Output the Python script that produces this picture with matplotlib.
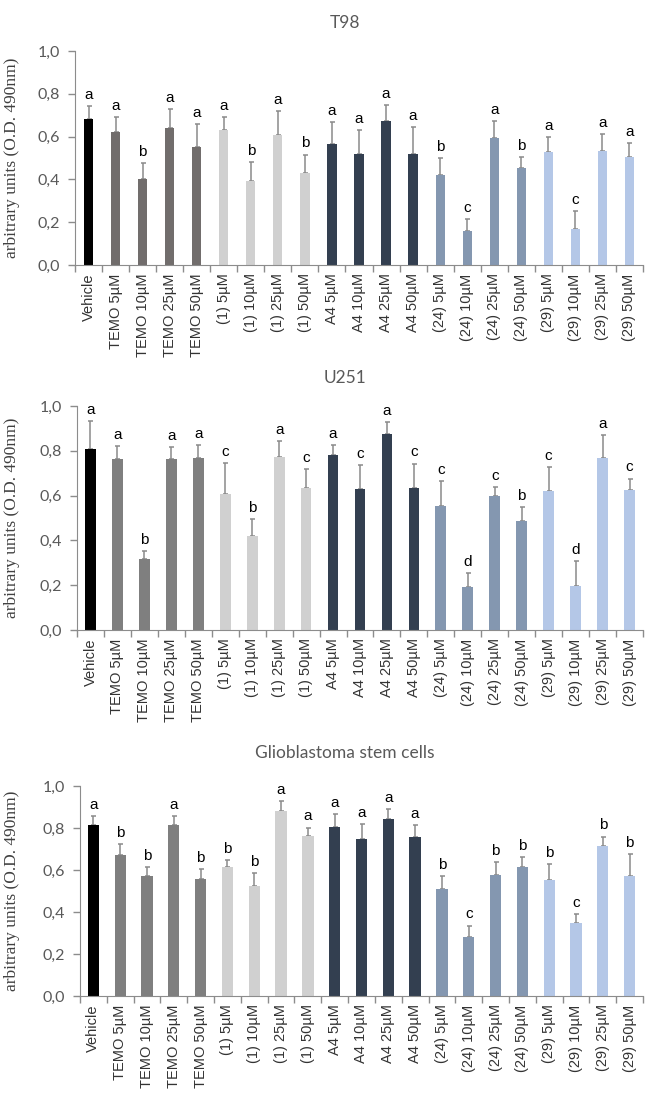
import matplotlib.pyplot as plt
import numpy as np

labels = ["Vehicle", "TEMO 5µM", "TEMO 10µM", "TEMO 25µM", "TEMO 50µM",
          "(1) 5µM", "(1) 10µM", "(1) 25µM", "(1) 50µM",
          "A4 5µM", "A4 10µM", "A4 25µM", "A4 50µM",
          "(24) 5µM", "(24) 10µM", "(24) 25µM", "(24) 50µM",
          "(29) 5µM", "(29) 10µM", "(29) 25µM", "(29) 50µM"]
group_sizes = [1, 4, 4, 4, 4, 4]

# T98
t98_mean = [0.682, 0.620, 0.400, 0.641, 0.551, 0.631, 0.391, 0.609, 0.431, 0.564, 0.520,
            0.674, 0.520, 0.422, 0.160, 0.595, 0.452, 0.530, 0.168, 0.533, 0.503]
t98_err = [0.060, 0.070, 0.075, 0.086, 0.108, 0.062, 0.090, 0.109, 0.085, 0.104, 0.109,
           0.072, 0.126, 0.078, 0.055, 0.079, 0.053, 0.068, 0.083, 0.079, 0.066]
t98_letters = list("aabaaababaaaabcabacaa")

# U251
u251_mean = [0.807, 0.765, 0.318, 0.765, 0.769, 0.606, 0.420, 0.771, 0.635, 0.783, 0.628,
             0.875, 0.634, 0.555, 0.190, 0.598, 0.488, 0.619, 0.198, 0.766, 0.624]
u251_err = [0.125, 0.056, 0.033, 0.052, 0.055, 0.141, 0.074, 0.074, 0.085, 0.043, 0.107,
            0.054, 0.109, 0.109, 0.063, 0.040, 0.061, 0.107, 0.109, 0.106, 0.052]
u251_letters = list("aabaacbacacaccdcbcdac")

# glioblastoma stem cells
gsc_mean = [0.813, 0.670, 0.573, 0.813, 0.557, 0.614, 0.524, 0.879, 0.762, 0.803, 0.746,
            0.844, 0.756, 0.508, 0.283, 0.576, 0.616, 0.554, 0.346, 0.714, 0.570]
gsc_err = [0.043, 0.052, 0.040, 0.043, 0.048, 0.035, 0.060, 0.051, 0.040, 0.062, 0.071,
           0.048, 0.057, 0.063, 0.052, 0.061, 0.044, 0.073, 0.044, 0.045, 0.105]
gsc_letters = list("abbabbbaaaaaabcbbbcbb")

W, H = 645, 1095
fig = plt.figure(figsize=(W / 100, H / 100), dpi=100)

panels = [
    # title, mean, err, letters, temo colour, left px, top px, bottom px, title y px, bar width
    ("T98", t98_mean, t98_err, t98_letters, "#716d6c", 75, 51, 265, 23, 0.34),
    ("U251", u251_mean, u251_err, u251_letters, "#7f7f7f", 77, 406, 630, 378, 0.40),
    ("Glioblastoma stem cells", gsc_mean, gsc_err, gsc_letters, "#7f7f7f", 80, 786, 996, 753, 0.42),
]

axis_grey = "#8c8c8c"
x = np.arange(len(labels))

for title, mean, err, letters, temo_c, left, top, bot, ty, bw in panels:
    group_colors = ["#000000", temo_c, "#d0d0d0", "#333f50", "#8497b0", "#b4c7e7"]
    colors = np.repeat(group_colors, group_sizes)

    ax = fig.add_axes([left / W, 1 - bot / H, (643 - left) / W, (bot - top) / H])
    ax.bar(x, mean, width=bw, color=colors, zorder=2)
    ax.errorbar(x, mean, yerr=[np.zeros(len(err)), err], fmt="none",
                ecolor="#8a8a8a", elinewidth=1.1, capsize=1.8, capthick=1.1, zorder=1)
    for xi, m, e, l in zip(x, mean, err, letters):
        ax.annotate(l, (xi, m + e), xytext=(0, 3), textcoords="offset points",
                    ha="center", va="bottom", fontsize=11, family="Liberation Sans")

    ax.set_xlim(-0.5, len(labels) - 0.5)
    ax.set_ylim(0, 1.0)
    ax.set_yticks(np.arange(0, 1.01, 0.2))
    ax.set_yticklabels([f"{v:.1f}".replace(".", ",") for v in np.arange(0, 1.01, 0.2)],
                       fontsize=11.5, family="Lato", color="#595959")
    ax.set_xticks(x)
    ax.set_xticklabels(labels, rotation=90, fontsize=10.5, family="Liberation Sans",
                       color="#333333")
    ax.set_xticks(np.arange(-0.5, len(labels), 1.0), minor=True)
    ax.tick_params(axis="x", which="major", length=0, pad=6)
    ax.tick_params(axis="x", which="minor", length=5, color=axis_grey, width=1)
    ax.tick_params(axis="y", length=5, color=axis_grey, width=1, pad=6)

    for s in ["top", "right"]:
        ax.spines[s].set_visible(False)
    for s in ["left", "bottom"]:
        ax.spines[s].set_color(axis_grey)

    fig.text(345 / W, 1 - ty / H, title, ha="center", va="center",
             fontsize=12.5, family="Lato", color="#595959")
    fig.text(12 / W, 1 - (top + bot) / 2 / H, "arbitrary units (O.D. 490nm)",
             rotation=90, ha="center", va="center", fontsize=12.5,
             family="Liberation Serif", color="#404040")

plt.savefig("out.png", dpi=100)
